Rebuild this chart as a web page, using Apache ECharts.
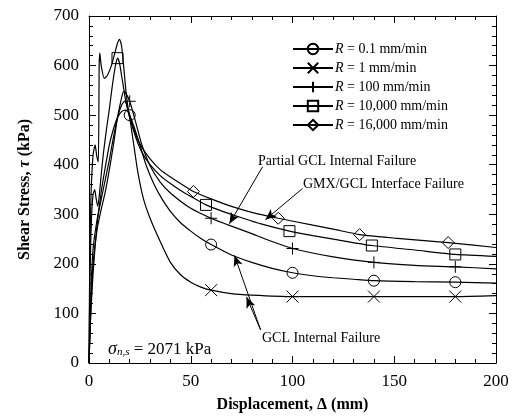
<!DOCTYPE html>
<html><head><meta charset="utf-8">
<script src="https://cdn.jsdelivr.net/npm/echarts@6/dist/echarts.min.js"></script>
<style>html,body{margin:0;padding:0;background:#fff}#c{width:519px;height:418px}</style>
</head><body><div id="c"></div>
<script>
// ---- data (displacement mm, shear stress kPa) ----
const names = ['R = 0.1 mm/min','R = 1 mm/min','R = 100 mm/min','R = 10,000 mm/min','R = 16,000 mm/min'];
const r01 = [[0,0],[0.5,60],[1,110],[2,180],[3,235],[4,280],[6,345],[8,395],[10,440],[12,472],[14,495],[16,507],[18,510],[19,508],[20,500],[22,478],[25,440],[28,400],[32,360],[36,330],[40,306],[45,283],[50,266],[55,251],[60,239],[70,218],[80,203],[90,191],[100,182],[110,176],[120,172],[130,169],[140,166],[160,164],[180,163],[200,161]];
const r1 = [[0,0],[1,150],[2,230],[4,290],[6,330],[8,370],[10,410],[12,455],[14,495],[16,520],[17.5,528],[19,515],[20,495],[22,440],[24,385],[26.7,332],[30,292],[35,245],[40,203],[45,178],[50,163],[55,153],[60,147],[70,140],[80,137],[100,134],[120,134],[140,134],[160,134],[180,134],[200,136]];
const r100 = [[0,0],[1,120],[2,200],[4,270],[6,310],[8,345],[10,390],[12,440],[14,495],[16,535],[17,548],[18,545],[20,528],[23,485],[26,440],[30,398],[35,365],[40,343],[50,312],[60,292],[70,276],[80,261],[90,245],[100,231],[120,214],[140,203],[160,197],[180,194],[200,190]];
const r10000 = [[0,0],[0.5,180],[1.2,290],[2,340],[2.8,350],[3.5,332],[4.3,316],[5,335],[6,380],[7,420],[8.7,475],[10,512],[11,545],[12,575],[13,600],[14,615],[15,605],[16,580],[17,555],[18,530],[20,495],[23,455],[26,425],[30,400],[35,378],[40,362],[45,348],[50,336],[57.5,319],[65,307],[75,293],[85,280],[98.5,266],[110,257],[120,250],[139,237],[160,228],[180,219],[200,215]];
const r16000 = [[0,0],[0.4,220],[1,340],[2,420],[3,440],[3.8,418],[4.6,406],[5,600],[5.3,625],[6,600],[7.5,574],[9,580],[11,600],[13,630],[14,645],[15,653],[16,640],[17,600],[18,555],[19,520],[20,500],[23,460],[26,435],[30,412],[35,390],[40,375],[45,362],[51.3,346],[60,331],[70,316],[80,304],[93,292],[110,278],[120,270],[133,259],[150,252],[176.5,243],[200,233]];
const curves = [r01, r1, r100, r10000, r16000];
// marker positions (displacement) on each curve
const marks01 = [20,60,100,140,180];
const marks1 = [60,100,140,180];
const marks100 = [20,60,100,140,180];
const marks10000 = [14,57.5,98.5,139,180];
const marks16000 = [51.3,93,133,176.5];
const marks = [marks01, marks1, marks100, marks10000, marks16000];
const symbols = ['circle','path://M0,0L10,10M10,0L0,10','path://M5,0L5,10M0,5L10,5','rect','diamond'];
const symSizes = [11, 12, 12, 11, 12];
// tick labels
const xTicks = [0,50,100,150,200];
const yTicks = [0,100,200,300,400,500,600,700];
// annotation arrows [from, to] in data units
const arrows = [
  [[85.3,396],[69.0,281]],
  [[104.9,352],[86.7,289]],
  [[84.3,67],[71.5,217]],
  [[84.3,67],[77.4,133]]
];

const FONT = 'Liberation Serif';
const chart = echarts.init(document.getElementById('c'), null, {renderer:'canvas'});
const series = curves.map((d,i)=>({
  name: names[i], type:'line', data:d, smooth:0.2, xAxisIndex:0, yAxisIndex:0,
  showSymbol:true, showAllSymbol:true, symbol:symbols[i],
  symbolSize:(v)=> marks[i].indexOf(v[0])>=0 ? symSizes[i] : 0,
  lineStyle:{color:'#000', width:1.2},
  itemStyle:{color:'rgba(0,0,0,0)', borderColor:'#000', borderWidth:1},
  emphasis:{disabled:true}, animation:false, z:3
}));
series.push({
  name:'arrows', type:'line', data:[], silent:true, animation:false,
  markLine:{silent:true, symbol:['none','arrow'], symbolSize:[7,11], label:{show:false},
    lineStyle:{color:'#000', width:1, type:'solid'},
    data: arrows.map(a=>[{coord:a[0]},{coord:a[1]}])}
});
const axisCommon = {
  type:'value', axisLine:{show:true, onZero:false, lineStyle:{color:'#000', width:1}},
  axisTick:{show:true, inside:true, length:7, lineStyle:{color:'#000'}},
  minorTick:{show:true, splitNumber:5, length:4, lineStyle:{color:'#000'}},
  splitLine:{show:false}, minorSplitLine:{show:false}
};
chart.setOption({
  animation:false,
  backgroundColor:'#fff',
  grid:{left:89, right:23, top:16, bottom:51},
  legend:{
    data:names, orient:'vertical', left:287, top:37, itemWidth:40, itemHeight:13, itemGap:5,
    selectedMode:false,
    formatter:(n)=>'{i|R}'+n.slice(1),
    textStyle:{fontFamily:FONT, fontSize:14, color:'#000', padding:[0,0,0,-3],
      rich:{i:{fontFamily:FONT, fontStyle:'italic', fontSize:14, color:'#000'}}}
  },
  xAxis:[
    Object.assign({}, axisCommon, {min:0, max:200, interval:50, position:'bottom',
      axisLabel:{fontFamily:FONT, fontSize:17, color:'#000', margin:10,
        formatter:(v)=> xTicks.indexOf(v)>=0 ? String(v) : ''},
      name:'Displacement, Δ (mm)', nameLocation:'middle', nameGap:34,
      nameTextStyle:{fontFamily:FONT, fontSize:16, fontWeight:'bold', color:'#000'}}),
    Object.assign({}, axisCommon, {min:0, max:200, interval:50, position:'top', axisLabel:{show:false}})
  ],
  yAxis:[
    Object.assign({}, axisCommon, {min:0, max:700, interval:100, position:'left',
      axisLabel:{fontFamily:FONT, fontSize:17, color:'#000', margin:10,
        formatter:(v)=> yTicks.indexOf(v)>=0 ? String(v) : ''},
      name:'Shear Stress, {t|τ} (kPa)', nameLocation:'middle', nameGap:56,
      nameTextStyle:{fontFamily:FONT, fontSize:16, fontWeight:'bold', color:'#000',
        rich:{t:{fontFamily:FONT, fontSize:16, fontStyle:'italic', color:'#000'}}}}),
    Object.assign({}, axisCommon, {min:0, max:700, interval:100, position:'right', axisLabel:{show:false}})
  ],
  graphic:[
    {type:'text', left:258, top:154, style:{text:'Partial GCL Internal Failure', font:'14px "Liberation Serif"', fill:'#000'}},
    {type:'text', left:303, top:177, style:{text:'GMX/GCL Interface Failure', font:'14px "Liberation Serif"', fill:'#000'}},
    {type:'text', left:262, top:331, style:{text:'GCL Internal Failure', font:'14px "Liberation Serif"', fill:'#000'}},
    {type:'text', left:108, top:340, style:{
      text:'{s|σ}{sub|n,s}{n| = 2071 kPa}',
      rich:{
        s:{fontFamily:FONT, fontStyle:'italic', fontSize:18, color:'#000', lineHeight:22, verticalAlign:'bottom'},
        sub:{fontFamily:FONT, fontStyle:'italic', fontSize:11, color:'#000', lineHeight:22, verticalAlign:'bottom'},
        n:{fontFamily:FONT, fontSize:17, color:'#000', lineHeight:22, verticalAlign:'bottom'}
      }}}
  ],
  series
});
</script></body></html>
